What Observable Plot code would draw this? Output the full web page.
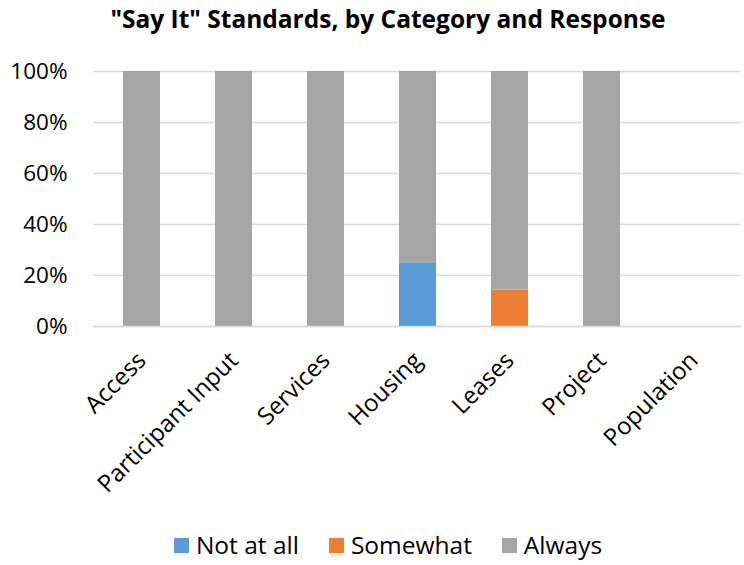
<!DOCTYPE html>
<html>
<head>
<meta charset="utf-8">
<script src="https://cdn.jsdelivr.net/npm/d3@7"></script>
<script src="https://cdn.jsdelivr.net/npm/@observablehq/plot@0.6"></script>
<style>
  body { margin: 0; background: #fff; font-family: "Open Sans", sans-serif; }
  #wrap { width: 744px; height: 565px; position: relative; }
  #title { position: absolute; left: 16px; top: 1px; width: 744px; text-align: center; font-weight: bold; font-size: 24.5px; line-height: 36px; color: #000; }
  #chart { position: absolute; left: 0; top: 45px; }
  #legend { position: absolute; left: 32px; top: 530px; width: 712px; box-sizing: border-box; display: flex; justify-content: center; gap: 30px; font-size: 24.5px; line-height: 30px; color: #000; }
  .item { display: flex; align-items: center; gap: 7px; }
  .sw { width: 15px; height: 15px; display: inline-block; }
</style>
</head>
<body>
<div id="wrap">
  <div id="title">"Say It" Standards, by Category and Response</div>
  <div id="chart"></div>
  <div id="legend"></div>
</div>
<script>
const categories = ["Access", "Participant Input", "Services", "Housing", "Leases", "Project", "Population"];
const seriesNames = ["Not at all", "Somewhat", "Always"];
const notAtAll = [0, 0, 0, 25, 0, 0, 0];
const somewhat = [0, 0, 0, 0, 14.3, 0, 0];
const always = [100, 100, 100, 75, 85.7, 100, 0];
const colors = ["#5B9BD5", "#ED7D31", "#A5A5A5"];
const yTicks = [0, 20, 40, 60, 80, 100];

const seriesValues = [notAtAll, somewhat, always];
const rows = [];
seriesNames.forEach((s, si) => {
  categories.forEach((c, ci) => {
    rows.push({category: c, series: s, value: seriesValues[si][ci]});
  });
});

const chart = Plot.plot({
  width: 744,
  height: 475,
  marginLeft: 93,
  marginRight: 3,
  marginTop: 26,
  marginBottom: 194,
  style: {fontFamily: "Open Sans, sans-serif", fontSize: "22px", color: "#000", background: "#fff"},
  x: {domain: categories, paddingInner: 0.6, paddingOuter: 0.3, label: null},
  y: {domain: [0, 100], label: null},
  color: {domain: seriesNames, range: colors},
  marks: [
    Plot.gridY(yTicks, {stroke: "#d9d9d9", strokeOpacity: 1, strokeWidth: 1.5}),
    Plot.axisY({ticks: yTicks, tickFormat: d => d + "%", tickSize: 0, tickPadding: 26, label: null, fontSize: 22.5}),
    Plot.axisX({tickSize: 0, tickRotate: -45, tickPadding: 30, label: null, fontSize: 24}),
    Plot.barY(rows, Plot.stackY({x: "category", y: "value", fill: "series", order: seriesNames})),
    Plot.ruleY([0], {stroke: "#d9d9d9", strokeWidth: 1.5})
  ]
});
document.getElementById("chart").appendChild(chart);

const legend = document.getElementById("legend");
seriesNames.forEach((s, i) => {
  const item = document.createElement("div");
  item.className = "item";
  const sw = document.createElement("span");
  sw.className = "sw";
  sw.style.background = colors[i];
  const t = document.createElement("span");
  t.textContent = s;
  item.appendChild(sw);
  item.appendChild(t);
  legend.appendChild(item);
});
</script>
</body>
</html>
